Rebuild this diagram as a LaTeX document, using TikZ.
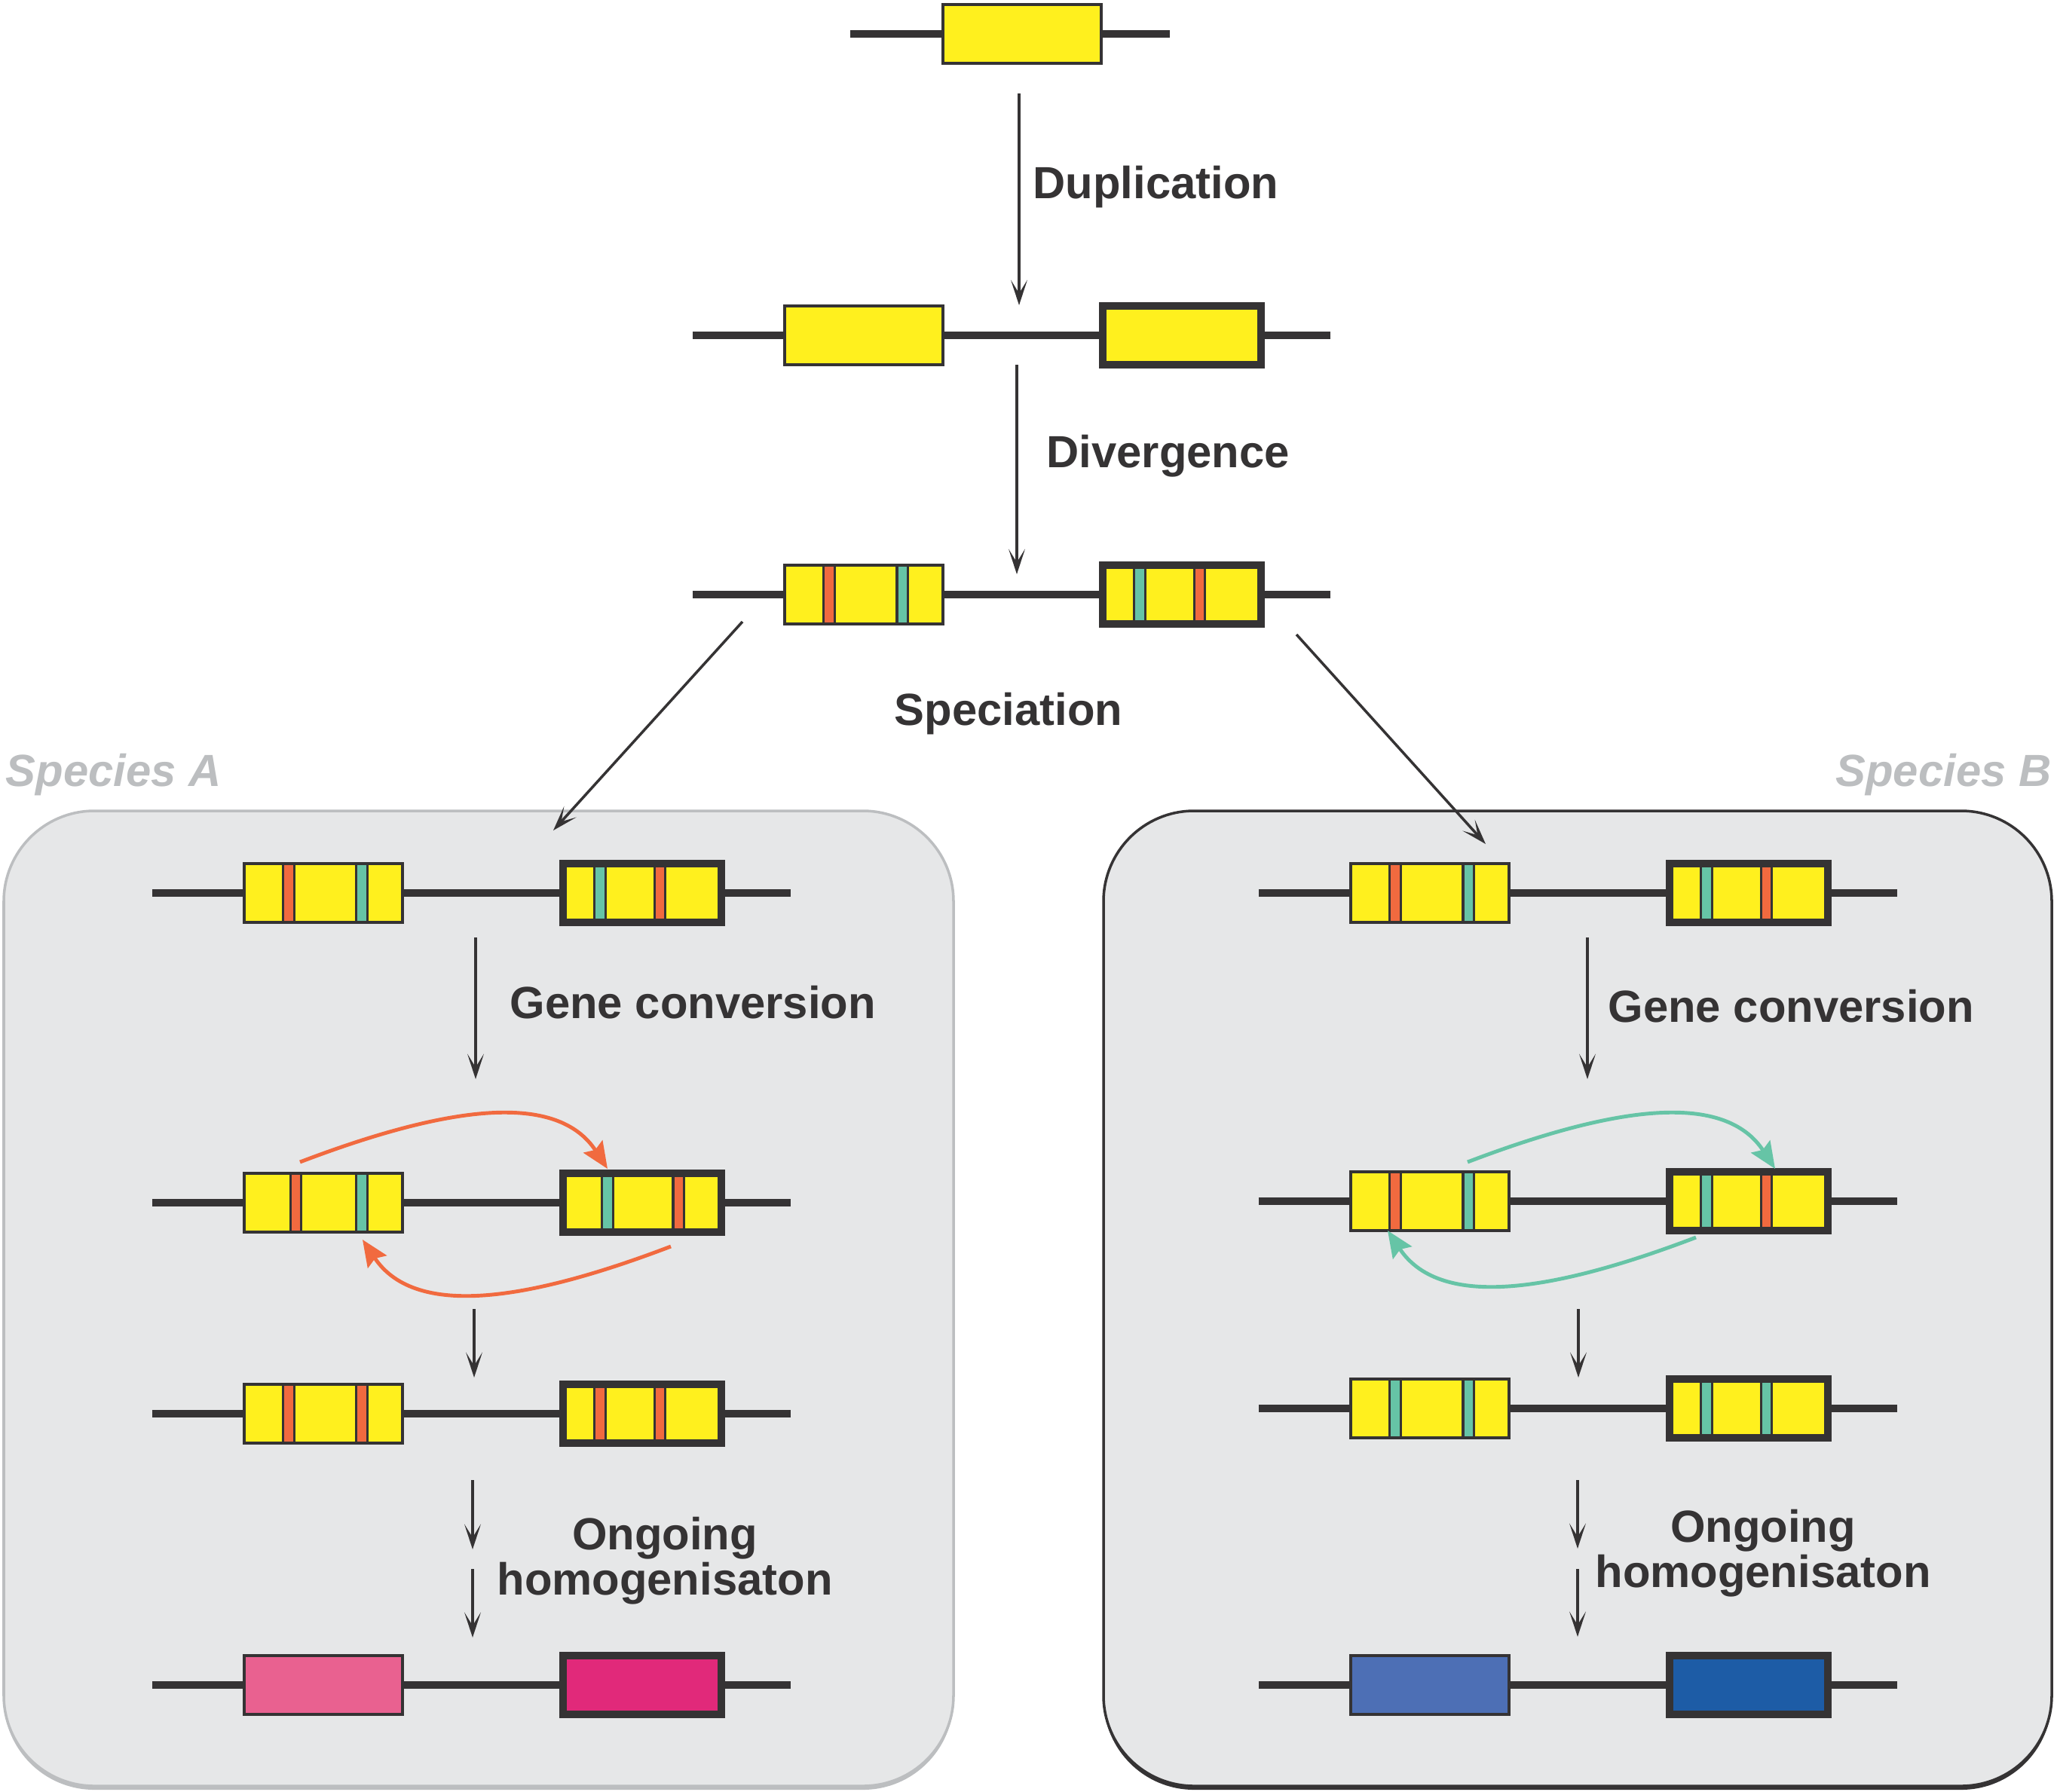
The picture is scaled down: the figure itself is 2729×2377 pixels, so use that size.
\documentclass[tikz,border=0pt]{standalone}
\usepackage{fontspec}
\setmainfont{Liberation Sans}
\usetikzlibrary{arrows.meta,calc,backgrounds}

\definecolor{ink}{HTML}{353334}
\definecolor{geneyellow}{HTML}{FFF01E}
\definecolor{mutred}{HTML}{F16A3F}
\definecolor{mutteal}{HTML}{66C4A6}
\definecolor{panelfill}{HTML}{E6E7E8}
\definecolor{panelgray}{HTML}{BCBEC0}
\definecolor{pinkA}{HTML}{E96190}
\definecolor{magentaA}{HTML}{E1297A}
\definecolor{blueB}{HTML}{4D6FB5}
\definecolor{navyB}{HTML}{1D5CA6}

\tikzset{
  gene/.style={rectangle, minimum width=2.1cm, minimum height=0.78cm, inner sep=0pt,
    fill=geneyellow, draw=ink, line width=1.1pt},
  paralog/.style={gene, line width=2.85pt},
  bands/.style={path picture={
    \foreach \dx/\col in {#1}
      \filldraw[draw=ink, line width=0.95pt, fill=\col]
        ([xshift=\dx cm-0.072cm, yshift=-0.1cm]path picture bounding box.south)
        rectangle ([xshift=\dx cm+0.072cm, yshift=0.1cm]path picture bounding box.north);}},
  dna/.style={draw=ink, line width=2.6pt},
  flow/.style={draw=ink, line width=1pt, -{Stealth[length=9.5pt, width=6.2pt, inset=5pt]}},
  conv/.style={line width=1.4pt, -{Stealth[length=10pt, width=8.5pt, inset=1.5pt]}},
  stage/.style={font=\bfseries\fontsize{17}{17}\selectfont, text=ink, inner sep=0pt},
  species/.style={font=\bfseries\itshape\fontsize{17}{17}\selectfont, text=panelgray, inner sep=0pt},
  panel/.style={fill=panelfill, line width=1pt, rounded corners=1.2cm}
}

\begin{document}
\begin{tikzpicture}[x=0.01cm, y=-0.01cm]
  \useasboundingbox (0,0) rectangle (2729,2377);

  % species panels
  \begin{scope}[on background layer]
    \fill[panelgray, rounded corners=1.2cm] (5,1081) rectangle (1265,2375);
    \draw[panel, draw=panelgray] (5,1076) rectangle (1265,2370);
    \fill[ink, rounded corners=1.2cm] (1464,1081) rectangle (2722,2375);
    \draw[panel, draw=ink] (1464,1076) rectangle (2722,2370);
  \end{scope}

  % ancestral gene, duplication, divergence
  \node[gene] (anc) at (1356,45) {};
  \node[gene] (dupL) at (1146,445) {};
  \node[paralog] (dupR) at (1568,445) {};
  \node[gene, bands={-0.46/mutred, 0.51/mutteal}] (divL) at (1146,789) {};
  \node[paralog, bands={-0.56/mutteal, 0.235/mutred}] (divR) at (1568,789) {};

  % species A
  \node[gene, bands={-0.46/mutred, 0.51/mutteal}] (aL1) at (429,1185) {};
  \node[paralog, bands={-0.56/mutteal, 0.235/mutred}] (aR1) at (852,1185) {};
  \node[gene, bands={-0.365/mutred, 0.51/mutteal}] (aL2) at (429,1596) {};
  \node[paralog, bands={-0.46/mutteal, 0.48/mutred}] (aR2) at (852,1596) {};
  \node[gene, bands={-0.46/mutred, 0.51/mutred}] (aL3) at (429,1876) {};
  \node[paralog, bands={-0.56/mutred, 0.235/mutred}] (aR3) at (852,1876) {};
  \node[gene, fill=pinkA] (aL4) at (429,2236) {};
  \node[paralog, fill=magentaA] (aR4) at (852,2236) {};

  % species B
  \node[gene, bands={-0.46/mutred, 0.51/mutteal}] (bL1) at (1897,1185) {};
  \node[paralog, bands={-0.56/mutteal, 0.235/mutred}] (bR1) at (2320,1185) {};
  \node[gene, bands={-0.46/mutred, 0.51/mutteal}] (bL2) at (1897,1594) {};
  \node[paralog, bands={-0.56/mutteal, 0.235/mutred}] (bR2) at (2320,1594) {};
  \node[gene, bands={-0.46/mutteal, 0.51/mutteal}] (bL3) at (1897,1869) {};
  \node[paralog, bands={-0.56/mutteal, 0.235/mutteal}] (bR3) at (2320,1869) {};
  \node[gene, fill=blueB] (bL4) at (1897,2236) {};
  \node[paralog, fill=navyB] (bR4) at (2320,2236) {};

  % chromosome lines behind the genes
  \begin{scope}[on background layer]
    \draw[dna] ([xshift=-2.28cm]anc.center) -- ([xshift=1.96cm]anc.center);
    \foreach \l/\r in {dupL/dupR, divL/divR, aL1/aR1, aL2/aR2, aL3/aR3, aL4/aR4,
                       bL1/bR1, bL2/bR2, bL3/bR3, bL4/bR4}
      \draw[dna] ([xshift=-2.27cm]\l.center) -- ([xshift=1.97cm]\r.center);
  \end{scope}

  % straight arrows
  \foreach \n/\x/\ya/\yb in {dup/1352/124/405, div/1349/484/762,
      gcA/631/1244/1432, hA/629/1737/1828, ogA/627/1964/2056, ohA/627/2082/2173,
      gcB/2106/1244/1432, hB/2094/1737/1828, ogB/2093/1964/2055, ohB/2093/2082/2172}{
    \coordinate (\n0) at (\x,\ya);
    \coordinate (\n1) at (\x,\yb);
    \draw[flow] (\n0) -- (\n1);
  }
  \coordinate (spA0) at (985,825);  \coordinate (spA1) at (734,1102);
  \coordinate (spB0) at (1720,842); \coordinate (spB1) at (1971,1120);
  \draw[flow] (spA0) -- (spA1);
  \draw[flow] (spB0) -- (spB1);

  % gene conversion arrows
  \coordinate (cA0) at (398,1542); \coordinate (cA1) at (806,1551);
  \coordinate (cA2) at (890,1654); \coordinate (cA3) at (481,1645);
  \draw[conv, draw=mutred] (cA0) .. controls (600,1465) and (740,1450) .. (cA1);
  \draw[conv, draw=mutred] (cA2) .. controls (688,1731) and (548,1746) .. (cA3);
  \coordinate (cB0) at (1947,1542); \coordinate (cB1) at (2355,1551);
  \coordinate (cB2) at (2250,1642); \coordinate (cB3) at (1841,1633);
  \draw[conv, draw=mutteal] (cB0) .. controls (2149,1465) and (2289,1450) .. (cB1);
  \draw[conv, draw=mutteal] (cB2) .. controls (2048,1719) and (1908,1734) .. (cB3);

  % labels
  \node[stage, anchor=base west] (tDup) at (1370,263) {Duplication};
  \node[stage, anchor=base west] (tDiv) at (1388,620) {Divergence};
  \node[stage, anchor=base] (tSpe) at (1338,962) {Speciation};
  \node[species, anchor=base west] (tSpA) at (7,1043) {Species A};
  \node[species, anchor=base east] (tSpB) at (2722,1043) {Species B};
  \node[stage, anchor=base west] (tGcA) at (676,1351) {Gene conversion};
  \node[stage, anchor=base west] (tGcB) at (2133,1356) {Gene conversion};
  \node[stage, align=center] (tOgA) at (882,2071) {Ongoing\\homogenisaton};
  \node[stage, align=center] (tOgB) at (2339,2061) {Ongoing\\homogenisaton};
\end{tikzpicture}
\end{document}
